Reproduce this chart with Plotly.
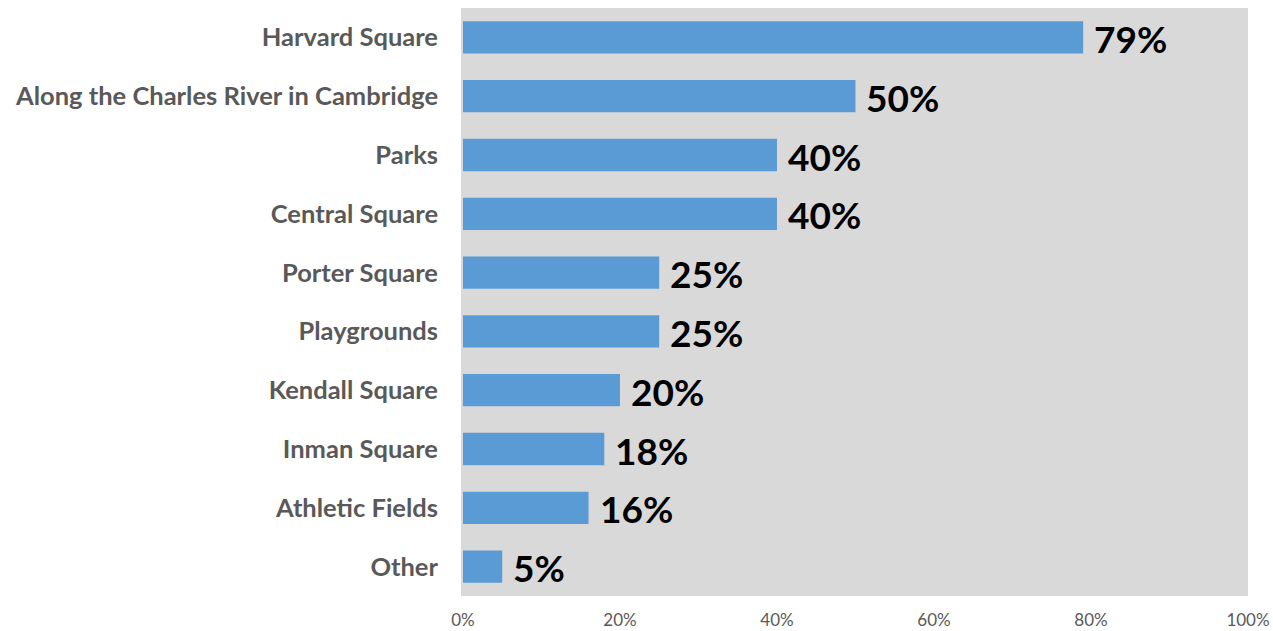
import plotly.graph_objects as go

categories = ["Harvard Square", "Along the Charles River in Cambridge", "Parks", "Central Square",
              "Porter Square", "Playgrounds", "Kendall Square", "Inman Square", "Athletic Fields", "Other"]
values = [79, 50, 40, 40, 25, 25, 20, 18, 16, 5]
tick_vals = [0, 20, 40, 60, 80, 100]
tick_text = ["0%", "20%", "40%", "60%", "80%", "100%"]

fig = go.Figure(go.Bar(
    x=values, y=categories, orientation="h",
    marker=dict(color="#5b9bd5", line=dict(width=0)),
    width=0.55,
    hoverinfo="x+y",
))

for c, v in zip(categories, values):
    fig.add_annotation(
        x=v, y=c, xref="x", yref="y", text=f"{v}%", showarrow=False,
        xanchor="left", yanchor="middle", xshift=9, yshift=-1,
        font=dict(family="Lato", size=37, color="#000000", weight="bold"),
    )

fig.update_layout(
    width=1273, height=631,
    margin=dict(l=461, r=25, t=8, b=35),
    paper_bgcolor="white", plot_bgcolor="#d9d9d9",
    showlegend=False,
    xaxis=dict(range=[-0.25, 100], tickvals=tick_vals, ticktext=tick_text, showgrid=False,
               zeroline=False, tickfont=dict(family="Lato", size=17, color="#595959"),
               ticks="", ticklabelstandoff=12, fixedrange=True, automargin=False),
    yaxis=dict(autorange="reversed", showgrid=False, zeroline=False, ticks="",
               ticklabelstandoff=22, automargin=False,
               tickfont=dict(family="Lato", size=25.5, color="#595959", weight="bold")),
)
fig.write_html("out.html")
